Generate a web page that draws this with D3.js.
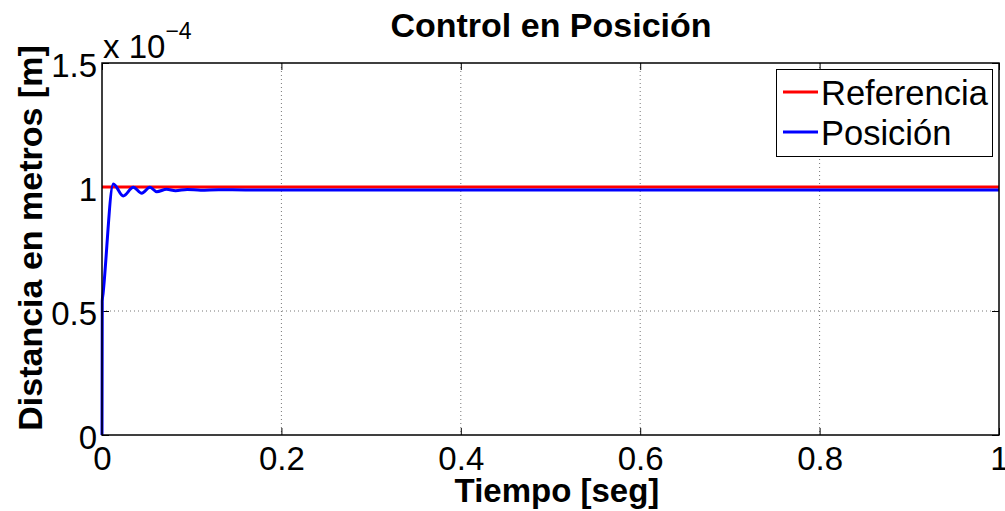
<!DOCTYPE html>
<html lang="es">
<head>
<meta charset="UTF-8">
<title>Control en Posición</title>
<script src="https://d3js.org/d3.v7.min.js"></script>
<style>
    body { margin: 0; background: #fff; }
    svg { display: block; font-family: "Liberation Sans", Arial, sans-serif; }
    .grid line { stroke: #777; stroke-width: 1; stroke-dasharray: 1,3; }
</style>
</head>
<body>
<svg id="chart"></svg>
<script>
// data (y values in units of 1e-4 m)
const tiempo   = [0, 0.0003, 0.0012, 0.0126, 0.0237, 0.0349, 0.0443, 0.0535, 0.061, 0.072, 0.082, 0.095, 0.11, 0.13, 0.16, 0.3, 0.6, 1.0];
const posicion = [0, 0.54, 0.57, 1.012, 0.964, 0.999, 0.975, 0.999, 0.981, 0.991, 0.985, 0.990, 0.987, 0.989, 0.988, 0.988, 0.988, 0.988];
const refTiempo = [0, 1];
const referencia = [1, 1];
const xTicks = [0, 0.2, 0.4, 0.6, 0.8, 1];
const xTickLabels = ["0", "0.2", "0.4", "0.6", "0.8", "1"];
const yTicks = [0, 0.5, 1, 1.5];
const yTickLabels = ["0", "0.5", "1", "1.5"];

const W = 1005, H = 511;
const margin = { top: 63, right: 6, bottom: 76, left: 102 };
const width = W - margin.left - margin.right;
const height = H - margin.top - margin.bottom;

const svg = d3.select("#chart").attr("width", W).attr("height", H);
const g = svg.append("g").attr("transform", `translate(${margin.left},${margin.top})`);

const x = d3.scaleLinear().domain([0, 1]).range([0, width]);
const y = d3.scaleLinear().domain([0, 1.5]).range([height, 0]);

// grid
const grid = g.append("g").attr("class", "grid");
grid.selectAll(".gx").data(xTicks.slice(1, -1)).enter().append("line")
    .attr("x1", d => x(d)).attr("x2", d => x(d)).attr("y1", 0).attr("y2", height);
grid.selectAll(".gy").data(yTicks.slice(1, -1)).enter().append("line")
    .attr("x1", 0).attr("x2", width).attr("y1", d => y(d)).attr("y2", d => y(d));

// axes (ticks pointing inward, MATLAB style)
const xAxis = g.append("g").attr("transform", `translate(0,${height})`)
    .call(d3.axisBottom(x).tickValues(xTicks).tickSizeInner(-7).tickSizeOuter(0)
        .tickPadding(12).tickFormat((d, i) => xTickLabels[i]));
const yAxis = g.append("g")
    .call(d3.axisLeft(y).tickValues(yTicks).tickSizeInner(-7).tickSizeOuter(0)
        .tickPadding(5).tickFormat((d, i) => yTickLabels[i]));
g.append("g").call(d3.axisTop(x).tickValues(xTicks).tickSizeInner(-7).tickSizeOuter(0).tickFormat(""));
g.append("g").attr("transform", `translate(${width},0)`)
    .call(d3.axisRight(y).tickValues(yTicks).tickSizeInner(-7).tickSizeOuter(0).tickFormat(""));

svg.selectAll(".domain").remove();
svg.selectAll(".tick line").attr("stroke", "#000");
[xAxis, yAxis].forEach(a => a.selectAll("text")
    .attr("font-family", "Liberation Sans, Arial, sans-serif")
    .attr("font-size", 33).attr("fill", "#000"));
yAxis.selectAll("text").attr("dy", "0.40em");

// lines
const line = d3.line().x(d => x(d[0])).y(d => y(d[1]));
g.append("path")
    .datum(refTiempo.map((t, i) => [t, referencia[i]]))
    .attr("d", line).attr("fill", "none").attr("stroke", "#ff0000").attr("stroke-width", 3);
g.append("path")
    .datum(tiempo.map((t, i) => [t, posicion[i]]))
    .attr("d", line.curve(d3.curveMonotoneX)).attr("fill", "none")
    .attr("stroke", "#0000ff").attr("stroke-width", 3).attr("stroke-linejoin", "round");

// frame
g.append("rect").attr("width", width).attr("height", height)
    .attr("fill", "none").attr("stroke", "#000").attr("stroke-width", 1.5);

// exponent label
const expo = svg.append("text").attr("x", 103).attr("y", 58)
    .attr("font-size", 33).attr("fill", "#000");
expo.append("tspan").text("x 10");
expo.append("tspan").attr("font-size", 23).attr("dy", -19).text("\u22124");

// title and axis labels
svg.append("text").attr("x", 551).attr("y", 37).attr("text-anchor", "middle")
    .attr("font-size", 34).attr("font-weight", "bold").text("Control en Posición");
svg.append("text").attr("x", 557).attr("y", 502).attr("text-anchor", "middle")
    .attr("font-size", 33).attr("font-weight", "bold").text("Tiempo [seg]");
svg.append("text").attr("transform", "translate(42,238) rotate(-90)")
    .attr("text-anchor", "middle").attr("font-size", 34).attr("font-weight", "bold")
    .text("Distancia en metros [m]");

// legend
const legend = svg.append("g");
legend.append("rect").attr("x", 776.5).attr("y", 69.5).attr("width", 216).attr("height", 87)
    .attr("fill", "#fff").attr("stroke", "#000").attr("stroke-width", 1);
const items = [["Referencia", "#ff0000"], ["Posición", "#0000ff"]];
items.forEach((it, i) => {
    const cy = 92 + i * 40;
    legend.append("line").attr("x1", 783).attr("x2", 818).attr("y1", cy).attr("y2", cy)
        .attr("stroke", it[1]).attr("stroke-width", 3);
    legend.append("text").attr("x", 821).attr("y", cy + 13).attr("font-size", 34.5)
        .attr("fill", "#000").text(it[0]);
});
</script>
</body>
</html>
